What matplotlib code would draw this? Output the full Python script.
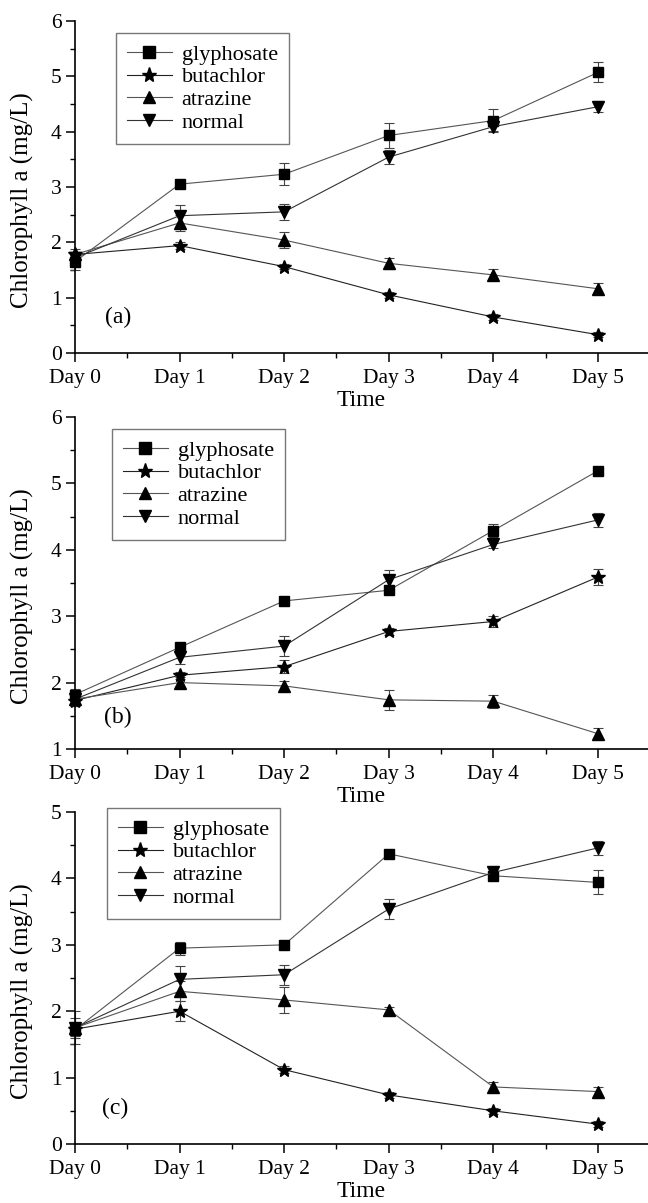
import matplotlib
matplotlib.use("Agg")
import matplotlib.pyplot as plt
from matplotlib.ticker import MultipleLocator

plt.rcParams['font.family'] = ['Liberation Serif', 'DejaVu Serif']

days = ["Day 0", "Day 1", "Day 2", "Day 3", "Day 4", "Day 5"]
names = ["glyphosate", "butachlor", "atrazine", "normal"]

# panel (a)
gly_a = [1.65, 3.05, 3.23, 3.93, 4.20, 5.07]
gly_a_err = [0.15, 0.05, 0.20, 0.22, 0.20, 0.18]
but_a = [1.78, 1.94, 1.56, 1.05, 0.65, 0.33]
but_a_err = [0.05, 0.06, 0.05, 0.05, 0.06, 0.05]
atr_a = [1.78, 2.35, 2.04, 1.62, 1.41, 1.16]
atr_a_err = [0.10, 0.15, 0.15, 0.10, 0.10, 0.10]
nor_a = [1.72, 2.48, 2.55, 3.54, 4.09, 4.45]
nor_a_err = [0.10, 0.20, 0.15, 0.12, 0.08, 0.10]

# panel (b)
gly_b = [1.82, 2.53, 3.23, 3.39, 4.29, 5.19]
gly_b_err = [0.08, 0.05, 0.05, 0.05, 0.10, 0.05]
but_b = [1.73, 2.11, 2.24, 2.77, 2.92, 3.59]
but_b_err = [0.05, 0.05, 0.10, 0.05, 0.08, 0.12]
atr_b = [1.75, 2.00, 1.95, 1.74, 1.72, 1.23]
atr_b_err = [0.10, 0.08, 0.08, 0.15, 0.10, 0.08]
nor_b = [1.75, 2.38, 2.55, 3.55, 4.08, 4.45]
nor_b_err = [0.10, 0.10, 0.15, 0.15, 0.05, 0.10]

# panel (c)
gly_c = [1.72, 2.95, 3.00, 4.37, 4.04, 3.94]
gly_c_err = [0.10, 0.10, 0.05, 0.03, 0.05, 0.18]
but_c = [1.73, 2.00, 1.12, 0.74, 0.50, 0.30]
but_c_err = [0.05, 0.15, 0.05, 0.05, 0.05, 0.05]
atr_c = [1.75, 2.30, 2.17, 2.02, 0.86, 0.79]
atr_c_err = [0.15, 0.15, 0.20, 0.05, 0.08, 0.07]
nor_c = [1.75, 2.48, 2.55, 3.54, 4.09, 4.46]
nor_c_err = [0.25, 0.20, 0.15, 0.15, 0.07, 0.10]

panels = [
    ("(a)", [gly_a, but_a, atr_a, nor_a], [gly_a_err, but_a_err, atr_a_err, nor_a_err], (0, 6), (0.41, 0.65), (0.0716, 0.964)),
    ("(b)", [gly_b, but_b, atr_b, nor_b], [gly_b_err, but_b_err, atr_b_err, nor_b_err], (1, 6), (0.41, 1.47), (0.0646, 0.964)),
    ("(c)", [gly_c, but_c, atr_c, nor_c], [gly_c_err, but_c_err, atr_c_err, nor_c_err], (0, 5), (0.38, 0.54), (0.0558, 1.012)),
]

markers = ['s', '*', '^', 'v']
msizes = [7.5, 10, 8.5, 8.5]
lcolors = ['#555555', '#222222', '#555555', '#333333']

fig = plt.figure(figsize=(6.48, 12.03), dpi=100)
bottoms = [0.7066, 0.3774, 0.049]
x = list(range(len(days)))

for (label, series, errs, ylim, lab_pos, leg_pos), b in zip(panels, bottoms):
    ax = fig.add_axes([0.1157, b, 0.8843, 0.276])
    handles = []
    for i in range(4):
        cont = ax.errorbar(x, series[i], yerr=errs[i], marker=markers[i], ms=msizes[i],
                           color=lcolors[i], mfc='black', mec='black', lw=0.8,
                           ecolor='#444444', elinewidth=0.8, capsize=3.5, capthick=0.8,
                           clip_on=False)
        handles.append(cont[0])
    ax.set_xlim(0, 5.478)
    ax.set_ylim(*ylim)
    ax.set_xticks(x)
    ax.set_xticklabels(days)
    ax.xaxis.set_minor_locator(MultipleLocator(0.5))
    ax.yaxis.set_major_locator(MultipleLocator(1))
    ax.yaxis.set_minor_locator(MultipleLocator(0.5))
    for s in ['top', 'right']:
        ax.spines[s].set_visible(False)
    for s in ['left', 'bottom']:
        ax.spines[s].set_linewidth(1.2)
    ax.tick_params(which='major', direction='out', length=6.5, width=1.1, labelsize=15.5)
    ax.tick_params(axis='x', which='major', pad=5)
    ax.tick_params(axis='y', which='major', pad=3)
    ax.tick_params(which='minor', direction='out', length=3.5, width=1.0)
    ax.set_ylabel("Chlorophyll a (mg/L)", fontsize=18)
    ax.yaxis.set_label_coords(-0.072, 0.46)
    ax.set_xlabel("Time", fontsize=17)
    ax.xaxis.set_label_coords(0.5, -0.112)
    ax.text(lab_pos[0], lab_pos[1], label, fontsize=17, ha='center', va='center')
    leg = ax.legend(handles, names, loc='upper left', bbox_to_anchor=leg_pos, borderaxespad=0,
                    fontsize=16, frameon=True, fancybox=False, edgecolor='#555555',
                    handlelength=2.0, handletextpad=0.45, labelspacing=0.1, borderpad=0.5,
                    markerscale=1.1)
    leg.get_frame().set_linewidth(1.0)

fig.savefig("out.png", dpi=100)
